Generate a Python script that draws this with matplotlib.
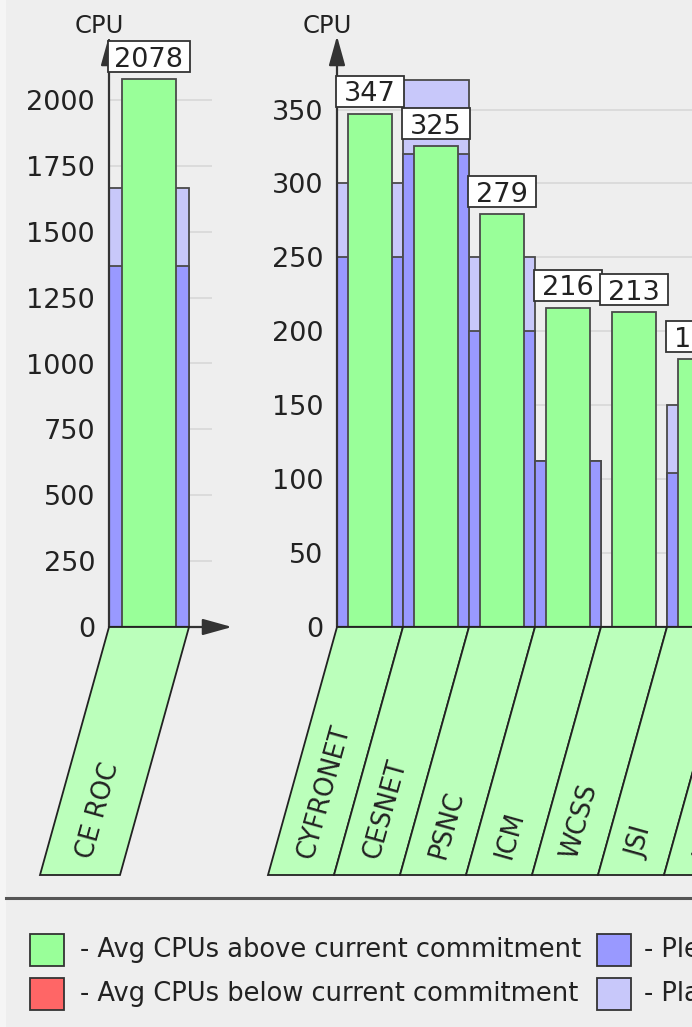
import math

import matplotlib
matplotlib.use("Agg")
import matplotlib.pyplot as plt
import numpy as np
from matplotlib.lines import Line2D
from matplotlib.patches import Polygon, Rectangle
from matplotlib.transforms import IdentityTransform

# --- data ------------------------------------------------------------------
roc_names = ["CE ROC"]
roc_avg = [2078]
roc_pledged = [1371]
roc_planned = [1667]
roc_ticks = [0, 250, 500, 750, 1000, 1250, 1500, 1750, 2000]

site_names = ["CYFRONET", "CESNET", "PSNC", "ICM", "WCSS", "JSI", "KFKI"]
site_avg = [347, 325, 279, 216, 213, 181, 170]
site_pledged = [250, 320, 200, 112, 0, 104, 100]
site_planned = [300, 370, 250, 112, 0, 150, 100]
site_ticks = [0, 50, 100, 150, 200, 250, 300, 350]

legend_left = [("- Avg CPUs above current commitment", "#99ff99"),
               ("- Avg CPUs below current commitment", "#ff6666")]
legend_right = [("- Pledged CPUs", "#9999ff"),
                ("- Planned CPUs", "#c8c8fa")]

# --- style -------------------------------------------------------------------
BG = "#eeeeee"
GREEN = "#99ff99"
DARK_BLUE = "#9999ff"
LIGHT_BLUE = "#c8c8fa"
LABEL_BG = "#bbffbb"
EDGE = "#4a4a4a"
GRID = "#d9d9d9"
INK = "#222222"

W, H = 692, 1027          # output size in pixels
AXIS_Y = 627              # pixel row of the zero line
TOP_Y = 36                # pixel row of the y-arrow tip
LABEL_BOTTOM = 875        # bottom of the slanted label strip
SLANT = 69                # horizontal shift of the label strip, px

plt.rcParams["font.family"] = ["DejaVu Sans"]


def px_rect(left, top, right, bottom):
    return [left / W, 1 - bottom / H, (right - left) / W, (bottom - top) / H]


fig = plt.figure(figsize=(W / 100, H / 100), dpi=100, facecolor=BG)
fig.add_artist(Rectangle((0, 0), 6 / W, 1, transform=fig.transFigure,
                         facecolor="#f5f5f5", edgecolor="none"))


def draw_panel(left_px, right_px, cat_px, names, avg, pledged, planned,
               ticks, ymax, grid_end, x_arrow):
    ax = fig.add_axes(px_rect(left_px, TOP_Y, right_px, AXIS_Y))
    lab = fig.add_axes(px_rect(left_px, AXIS_Y, right_px, LABEL_BOTTOM))
    xmax = (right_px - left_px) / cat_px
    for a in (ax, lab):
        a.set_facecolor("none")
        a.set_xlim(0, xmax)
        for s in a.spines.values():
            s.set_visible(False)
    ax.set_ylim(0, ymax)
    lab.set_ylim(0, 1)
    lab.axis("off")

    x = np.arange(len(names)) + 0.5
    ax.hlines(ticks[1:], 0, grid_end, color=GRID, lw=1.3, zorder=0)
    ax.bar(x, planned, width=1.0, color=LIGHT_BLUE, edgecolor=EDGE, lw=1.3, zorder=2)
    ax.bar(x, pledged, width=1.0, color=DARK_BLUE, edgecolor=EDGE, lw=1.3, zorder=2)
    ax.bar(x, avg, width=0.68, color=GREEN, edgecolor=EDGE, lw=1.3, zorder=3)

    ax.set_xticks([])
    ax.set_yticks(ticks)
    ax.tick_params(axis="y", length=0, pad=10, labelsize=19.5, labelcolor=INK)

    arrow = dict(arrowstyle="-|>,head_length=0.9,head_width=0.25", color="#333333",
                 lw=1.6, shrinkA=0, shrinkB=0, mutation_scale=20)
    ax.annotate("", xy=(0, 1), xytext=(0, 0), xycoords="axes fraction",
                arrowprops=arrow, zorder=4, annotation_clip=False)
    if x_arrow:
        ax.annotate("", xy=(1, 0), xytext=(0, 0), xycoords="axes fraction",
                    arrowprops=arrow, zorder=4, annotation_clip=False)
    else:
        ax.axhline(0, color="#333333", lw=1.6, zorder=4)
    ax.annotate("CPU", xy=(0, 1), xycoords="axes fraction", xytext=(-10, 3),
                textcoords="offset pixels", ha="center", va="baseline",
                fontsize=17.5, color=INK, annotation_clip=False)

    # value boxes above the green bars (figure level so they sit on top)
    for i, v in enumerate(avg):
        x0, y0 = ax.transData.transform((i, v))
        x1, _ = ax.transData.transform((i + 1, v))
        fig.add_artist(Rectangle((x0 - 1, y0 + 7), x1 - x0 + 2, 31,
                                 transform=IdentityTransform(), facecolor="white",
                                 edgecolor="#333333", lw=1.3, zorder=6))
        fig.text((x0 + x1) / 2, y0 + 7 + 15.5, str(v), transform=IdentityTransform(),
                 ha="center", va="center_baseline", fontsize=19.5, color=INK,
                 zorder=7)

    # slanted category labels
    s = SLANT / cat_px
    angle = math.degrees(math.atan2(LABEL_BOTTOM - AXIS_Y, SLANT))
    f = 0.07
    for i, name in enumerate(names):
        lab.add_patch(Polygon([(i, 1), (i + 1, 1), (i + 1 - s, 0), (i - s, 0)],
                              closed=True, facecolor=LABEL_BG, edgecolor="#222222",
                              lw=1.3, clip_on=False))
        lab.text(i + 0.5 - s * (1 - f), f, name, rotation=angle,
                 rotation_mode="anchor", ha="left", va="center",
                 fontsize=18.5, color=INK, clip_on=False)
    return ax


draw_panel(109, 232, 80, roc_names, roc_avg, roc_pledged, roc_planned,
           roc_ticks, (AXIS_Y - TOP_Y) / (AXIS_Y - 100) * 2000, 1.29, True)
draw_panel(337, 860, 66, site_names, site_avg, site_pledged, site_planned,
           site_ticks, (AXIS_Y - TOP_Y) / (AXIS_Y - 109.5) * 350, 8.0, False)

# separator above the legend
fig.add_artist(Line2D([6 / W, 1], [1 - 898 / H] * 2, color="#555555", lw=2.2))

# legend, drawn by hand in two columns
for col, (entries, box_x, text_x) in enumerate([(legend_left, 30, 80),
                                                (legend_right, 597, 644)]):
    for row, (label, color) in enumerate(entries):
        cy = 950 + row * 44
        fig.add_artist(Rectangle((box_x / W, 1 - (cy + 16) / H), 34 / W, 32 / H,
                                 transform=fig.transFigure, facecolor=color,
                                 edgecolor="#333333", lw=1.3))
        fig.text(text_x / W, 1 - cy / H, label, ha="left", va="center",
                 fontsize=18.5, color=INK)

fig.savefig("out.png", dpi=100, facecolor=BG)
